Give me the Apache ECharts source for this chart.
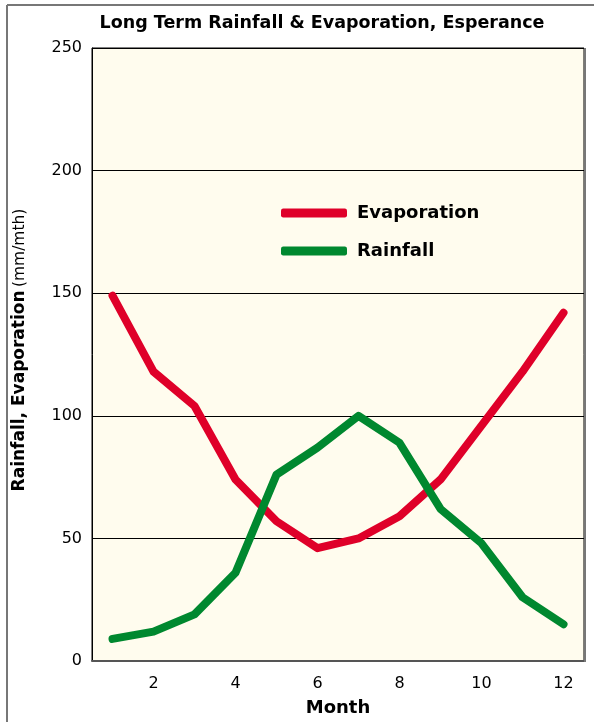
<!DOCTYPE html>
<html><head><meta charset="utf-8">
<script src="https://cdn.jsdelivr.net/npm/echarts@6/dist/echarts.min.js"></script>
<style>html,body{margin:0;padding:0;background:#fff;}#c{width:594px;height:722px;}</style>
</head><body><div id="c"></div>
<script>
var months = [1,2,3,4,5,6,7,8,9,10,11,12];
var evaporation = [149, 118, 104, 74, 57, 46, 50, 59, 74, 96, 118, 142];
var rainfall = [9, 12, 19, 36, 76, 87, 100, 89, 62, 48, 26, 15];
var yTicks = [0, 50, 100, 150, 200, 250];
var xTicks = [2, 4, 6, 8, 10, 12];
var FONT = '"DejaVu Sans", "Noto Sans", sans-serif';

var chart = echarts.init(document.getElementById('c'));
chart.setOption({
  animation: false,
  backgroundColor: '#fff',
  title: {
    text: 'Long Term Rainfall & Evaporation, Esperance',
    left: 317, top: 9, textAlign: 'center',
    textStyle: {fontFamily: FONT, fontWeight: 'bold', fontSize: 17.5, color: '#000'}
  },
  graphic: [
    {type: 'line', shape: {x1: 7, y1: 5, x2: 594, y2: 5}, style: {stroke: '#777', lineWidth: 2}},
    {type: 'line', shape: {x1: 7, y1: 5, x2: 7, y2: 722}, style: {stroke: '#777', lineWidth: 2}},
    {type: 'line', shape: {x1: 585, y1: 48, x2: 585, y2: 662}, style: {stroke: '#777', lineWidth: 2}, z: 10},
    {type: 'text', x: 20, y: 350, rotation: Math.PI/2,
     style: {text: '{b|Rainfall, Evaporation} {r|(mm/mth)}', align: 'center', verticalAlign: 'middle',
       rich: {b: {fontFamily: FONT, fontWeight: 'bold', fontSize: 17, fill: '#000'},
              r: {fontFamily: FONT, fontSize: 15.5, fill: '#000'}}}}
  ],
  legend: {
    orient: 'vertical', left: 276, top: 199, itemGap: 20,
    itemWidth: 66, itemHeight: 9, icon: 'roundRect',
    textStyle: {fontFamily: FONT, fontWeight: 'bold', fontSize: 18, color: '#000', padding: [0,0,0,5]},
    data: ['Evaporation', 'Rainfall']
  },
  grid: {left: 92, right: 10, top: 48, bottom: 60, show: true, backgroundColor: '#fffcee', borderColor: '#000', borderWidth: 1},
  xAxis: {
    type: 'value', min: 0.5, max: 12.5,
    name: 'Month', nameLocation: 'middle', nameGap: 38,
    nameTextStyle: {fontFamily: FONT, fontWeight: 'bold', fontSize: 18, color: '#000'},
    axisLine: {show: true, lineStyle: {color: '#555', width: 2}},
    axisTick: {show: false}, splitLine: {show: false},
    axisLabel: {
      fontFamily: FONT, fontSize: 16, color: '#000', margin: 15,
      customValues: xTicks
    }
  },
  yAxis: {
    type: 'value', min: 0, max: 250, interval: 50,
    axisLine: {show: true, lineStyle: {color: '#000'}},
    axisTick: {show: false},
    splitLine: {show: true, lineStyle: {color: '#000', width: 1}},
    axisLabel: {fontFamily: FONT, fontSize: 16, color: '#000', margin: 10}
  },
  series: [
    {name: 'Evaporation', type: 'line', data: months.map(function(m,i){return [m, evaporation[i]];}),
     showSymbol: false, symbol: 'none', lineStyle: {color: '#df0029', width: 8, cap: 'round', join: 'round'},
     itemStyle: {color: '#df0029'}},
    {name: 'Rainfall', type: 'line', data: months.map(function(m,i){return [m, rainfall[i]];}),
     showSymbol: false, symbol: 'none', lineStyle: {color: '#00882f', width: 8, cap: 'round', join: 'round'},
     itemStyle: {color: '#00882f'}}
  ]
});
</script></body></html>
